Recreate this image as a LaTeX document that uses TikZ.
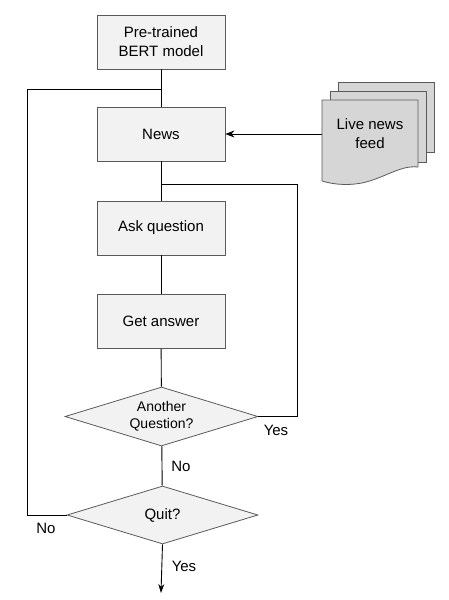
\documentclass[tikz,border=0pt]{standalone}
\usepackage{fontspec}
\setmainfont{Liberation Sans}
\usetikzlibrary{shapes.geometric,arrows.meta}
\definecolor{boxfill}{RGB}{242,242,242}
\definecolor{boxline}{RGB}{90,90,90}
\definecolor{docfill}{RGB}{214,214,214}
\begin{document}
\begin{tikzpicture}[x=1pt,y=-1pt,
  stepbox/.style={draw=boxline,fill=boxfill,line width=0.8pt,minimum width=128pt,minimum height=54pt,inner sep=0pt,align=center,font=\fontsize{15}{19}\selectfont},
  decide/.style={draw=boxline,fill=boxfill,line width=0.8pt,diamond,inner sep=0pt,align=center},
  lbl/.style={font=\fontsize{15}{18}\selectfont,inner sep=0pt},
  conn/.style={line width=0.9pt,black},
  docshape/.style={draw=boxline,fill=docfill,line width=0.8pt}]
\useasboundingbox (0,0) rectangle (449,600);
\node[stepbox] (pre) at (161,42) {Pre-trained\\BERT model};
\node[stepbox] (news) at (161,134) {News};
\node[stepbox] (ask) at (161,228) {Ask question};
\node[stepbox] (get) at (161,321.5) {Get answer};
\node[decide,minimum width=193pt,minimum height=59pt,aspect=3.27,font=\fontsize{14}{17}\selectfont] (another) at (161.5,416.5) {Another\\Question?};
\node[decide,minimum width=191pt,minimum height=58pt,aspect=3.3,font=\fontsize{15}{18}\selectfont] (quit) at (162.5,515) {Quit?};
% document stack
\draw[docshape] (338,82) rectangle (434,152);
\draw[docshape] (330,91) rectangle (426,162);
\draw[docshape] (322,100) -- (418,100) -- (418,167)
  .. controls (400,165) and (385,178) .. (362,183)
  .. controls (345,186) and (332,184) .. (322,181) -- cycle;
\node[inner sep=0pt,minimum width=96pt,minimum height=68pt,align=center,font=\fontsize{15}{19}\selectfont] (feed) at (370,134) {Live news\\feed};
% coordinates
\coordinate (j1) at (161,89);
\coordinate (l1) at (27,89);
\coordinate (j2) at (161,184);
\coordinate (r2) at (297,184);
\coordinate (endpt) at (161,593);
% connectors
\draw[conn] (pre) -- (news);
\draw[conn] (news) -- (ask);
\draw[conn] (ask) -- (get);
\draw[conn] (get) -- (another);
\draw[conn] (another) -- (quit);
\draw[conn,-{Stealth[length=9pt,width=7pt]}] (feed) -- (news);
\draw[conn] (quit.west) -| (l1) -- (j1);
\draw[conn] (another.east) -| (r2) -- (j2);
\draw[conn,-{Stealth[length=9pt,width=6pt]}] (quit.south) -- (endpt);
% labels
\node[lbl] (yes1) at (276,430) {Yes};
\node[lbl] (no1) at (181,466) {No};
\node[lbl] (no2) at (46,528) {No};
\node[lbl] (yes2) at (184,566) {Yes};
\end{tikzpicture}
\end{document}
